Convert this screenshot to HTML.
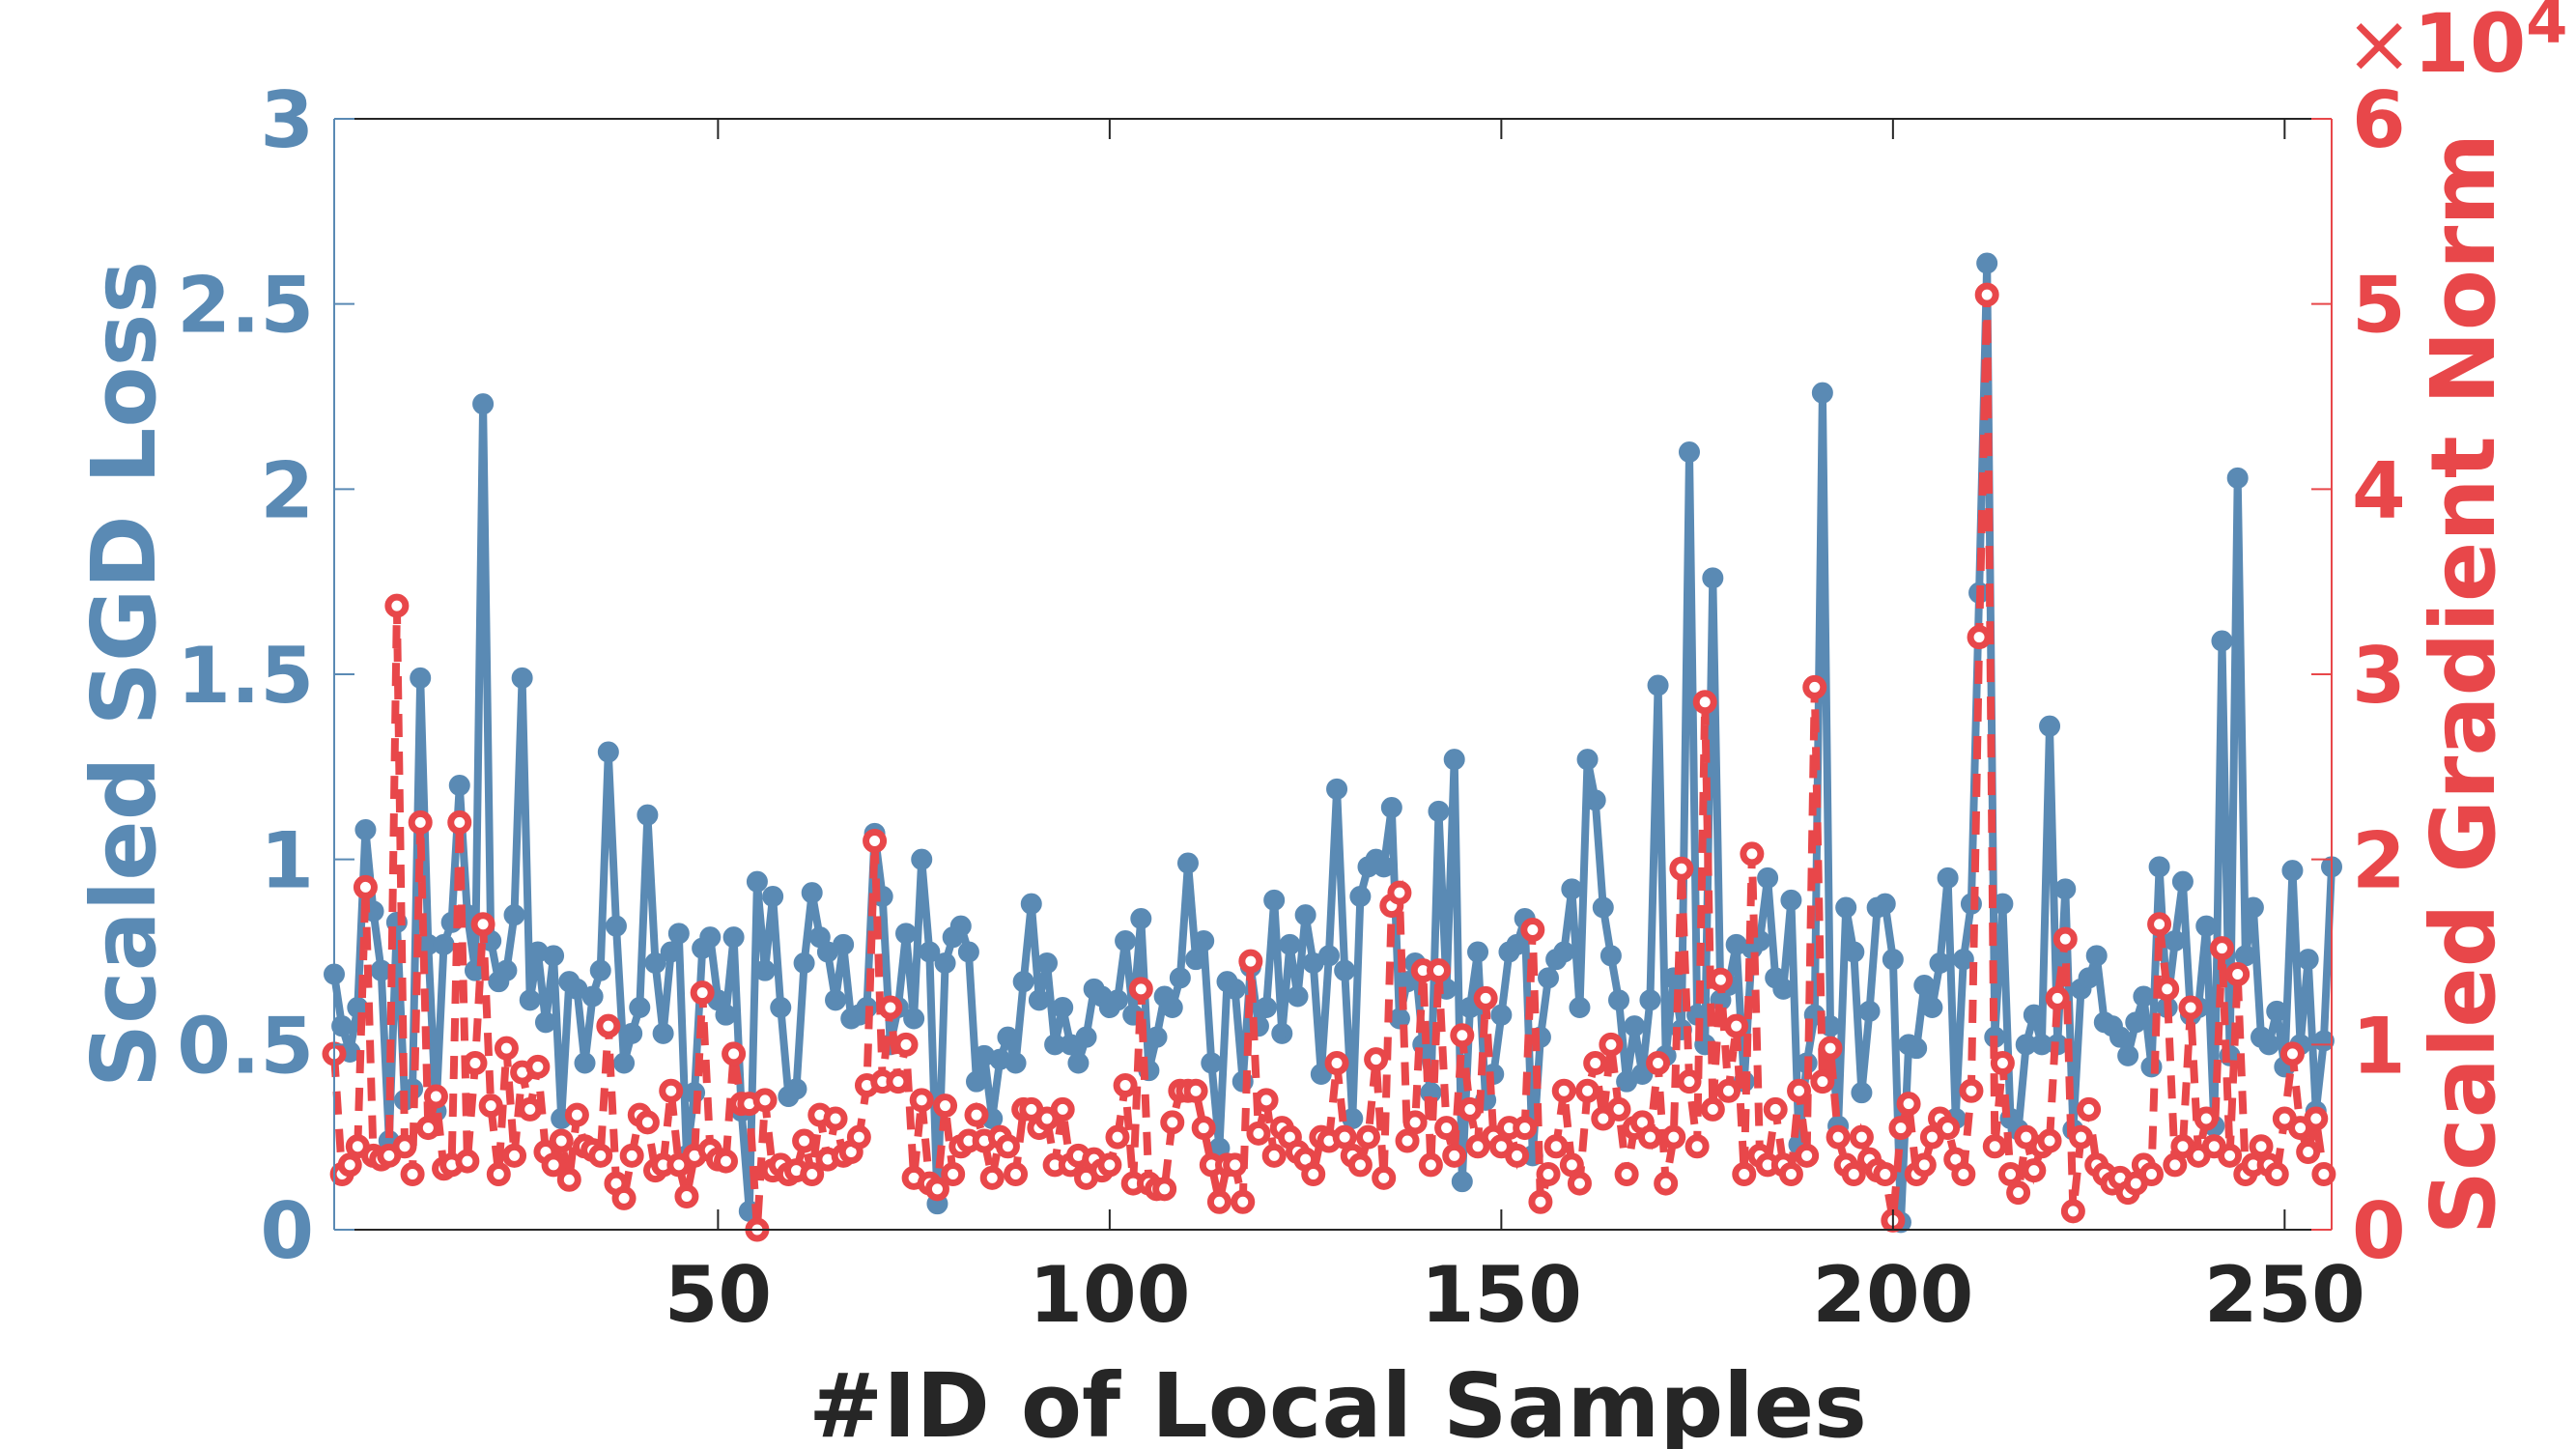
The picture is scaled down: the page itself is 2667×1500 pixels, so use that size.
<!DOCTYPE html>
<html><head><meta charset="utf-8"><style>
html,body{margin:0;padding:0;background:#fff;}
svg{display:block;font-family:"DejaVu Sans","Liberation Sans",sans-serif;font-weight:bold;}
</style></head><body>
<svg id="chart" width="2667" height="1500" viewBox="0 0 2667 1500" xmlns="http://www.w3.org/2000/svg" style="position:absolute;left:0;top:0">
<rect x="0" y="0" width="2667" height="1500" fill="#fff"/>
<g id="plot"></g>
<g id="axes"></g>
<text x="1385" y="1487" text-anchor="middle" font-size="92" fill="#262626">#ID of Local Samples</text>
<text transform="translate(160,698) rotate(-90)" text-anchor="middle" font-size="92" fill="#5A8AB4">Scaled SGD Loss</text>
<text transform="translate(2582,708) rotate(-90)" text-anchor="middle" font-size="92" fill="#E8474A">Scaled Gradient Norm</text>
<text x="2428" y="74" font-size="84" fill="#E8474A"><tspan font-weight="normal">×</tspan>10<tspan font-size="62" dy="-30">4</tspan></text>
</svg>
<script>
const lossValues=[0.69,0.55,0.48,0.6,1.08,0.86,0.7,0.24,0.83,0.35,0.38,1.49,0.77,0.32,0.77,0.83,1.2,0.85,0.7,2.23,0.78,0.67,0.7,0.85,1.49,0.62,0.75,0.56,0.74,0.3,0.67,0.65,0.45,0.63,0.7,1.29,0.82,0.45,0.53,0.6,1.12,0.72,0.53,0.75,0.8,0.2,0.37,0.76,0.79,0.62,0.58,0.79,0.32,0.05,0.94,0.7,0.9,0.6,0.36,0.38,0.72,0.91,0.79,0.75,0.62,0.77,0.57,0.58,0.6,1.07,0.9,0.5,0.6,0.8,0.57,1.0,0.75,0.07,0.72,0.79,0.82,0.75,0.4,0.47,0.3,0.46,0.52,0.45,0.67,0.88,0.62,0.72,0.5,0.6,0.5,0.45,0.52,0.65,0.63,0.6,0.62,0.78,0.58,0.84,0.43,0.52,0.63,0.6,0.68,0.99,0.73,0.78,0.45,0.22,0.67,0.65,0.4,0.71,0.55,0.6,0.89,0.53,0.77,0.63,0.85,0.72,0.42,0.74,1.19,0.7,0.3,0.9,0.98,1.0,0.98,1.14,0.57,0.67,0.72,0.5,0.37,1.13,0.65,1.27,0.13,0.6,0.75,0.35,0.42,0.58,0.75,0.77,0.84,0.2,0.52,0.68,0.73,0.75,0.92,0.6,1.27,1.16,0.87,0.74,0.62,0.4,0.55,0.42,0.62,1.47,0.47,0.68,0.54,2.1,0.58,0.5,1.76,0.62,0.66,0.77,0.4,0.76,0.78,0.95,0.68,0.65,0.89,0.23,0.45,0.58,2.26,0.55,0.28,0.87,0.75,0.37,0.59,0.87,0.88,0.73,0.02,0.5,0.49,0.66,0.6,0.72,0.95,0.3,0.73,0.88,1.72,2.61,0.52,0.88,0.3,0.27,0.5,0.58,0.5,1.36,0.5,0.92,0.27,0.65,0.68,0.74,0.56,0.55,0.52,0.47,0.56,0.63,0.44,0.98,0.6,0.78,0.94,0.58,0.6,0.82,0.28,1.59,0.47,2.03,0.74,0.87,0.52,0.5,0.59,0.44,0.97,0.5,0.73,0.32,0.51,0.98];
const gradValues=[0.95,0.3,0.35,0.45,1.85,0.4,0.38,0.4,3.37,0.45,0.3,2.2,0.55,0.72,0.33,0.35,2.2,0.37,0.9,1.65,0.67,0.3,0.98,0.4,0.85,0.65,0.88,0.42,0.35,0.48,0.27,0.62,0.45,0.43,0.4,1.1,0.25,0.17,0.4,0.62,0.58,0.32,0.35,0.75,0.35,0.18,0.4,1.28,0.43,0.38,0.37,0.95,0.68,0.68,0,0.7,0.32,0.35,0.3,0.32,0.48,0.3,0.62,0.38,0.6,0.4,0.42,0.5,0.78,2.1,0.8,1.2,0.8,1.0,0.28,0.7,0.25,0.22,0.67,0.3,0.45,0.48,0.62,0.48,0.28,0.5,0.45,0.3,0.65,0.65,0.55,0.6,0.35,0.65,0.35,0.4,0.28,0.38,0.32,0.35,0.5,0.78,0.25,1.3,0.25,0.22,0.22,0.58,0.75,0.75,0.75,0.55,0.35,0.15,0.35,0.35,0.15,1.45,0.52,0.7,0.4,0.55,0.5,0.42,0.38,0.3,0.5,0.48,0.9,0.5,0.4,0.35,0.5,0.92,0.28,1.75,1.82,0.48,0.58,1.4,0.35,1.4,0.55,0.4,1.05,0.65,0.45,1.25,0.5,0.45,0.55,0.4,0.55,1.62,0.15,0.3,0.45,0.75,0.35,0.25,0.75,0.9,0.6,1.0,0.65,0.3,0.55,0.58,0.5,0.9,0.25,0.5,1.95,0.8,0.45,2.85,0.65,1.35,0.75,1.1,0.3,2.03,0.4,0.35,0.65,0.35,0.3,0.75,0.4,2.93,0.8,0.98,0.5,0.35,0.3,0.5,0.38,0.32,0.3,0.05,0.55,0.68,0.3,0.35,0.5,0.6,0.55,0.38,0.3,0.75,3.2,5.05,0.45,0.9,0.3,0.2,0.5,0.32,0.45,0.48,1.25,1.57,0.1,0.5,0.65,0.35,0.3,0.25,0.28,0.2,0.25,0.35,0.3,1.65,1.3,0.35,0.45,1.2,0.4,0.6,0.45,1.52,0.4,1.38,0.3,0.35,0.45,0.35,0.3,0.6,0.95,0.55,0.42,0.6,0.3];
const xTicks=[50,100,150,200,250];
const yLeftTicks=[0,0.5,1,1.5,2,2.5,3];
const yLeftLabels=["0","0.5","1","1.5","2","2.5","3"];
const yRightTicks=[0,1,2,3,4,5,6];

const L=346,R=2414,T=123,B=1273;
const BLUE="#5A8AB4",RED="#E8474A",DARK="#262626";
const NS="http://www.w3.org/2000/svg";
const xScale=v=>L+(v-1)/(256-1)*(R-L);
const yL=v=>B-v/3*(B-T);
const yR=v=>B-v/6*(B-T);
function mk(tag,attrs,parent){const e=document.createElementNS(NS,tag);for(const k in attrs)e.setAttribute(k,attrs[k]);parent.appendChild(e);return e;}
const plot=document.getElementById('plot'),axes=document.getElementById('axes');

let pts=lossValues.map((v,i)=>xScale(i+1).toFixed(1)+","+yL(v).toFixed(1)).join(" ");
let bl=mk('polyline',{points:pts,fill:'none',stroke:BLUE,'stroke-width':8,'stroke-linejoin':'round'},plot);


lossValues.forEach((v,i)=>{
  const c=mk('circle',{cx:xScale(i+1),cy:yL(v),r:8,fill:BLUE,stroke:BLUE,'stroke-width':6},plot);
  
  
});
pts=gradValues.map((v,i)=>xScale(i+1).toFixed(1)+","+yR(v).toFixed(1)).join(" ");
let rl=mk('polyline',{points:pts,fill:'none',stroke:RED,'stroke-width':8,'stroke-dasharray':'24 15'},plot);


gradValues.forEach((v,i)=>{
  const c=mk('circle',{cx:xScale(i+1),cy:yR(v),r:9,fill:'#fff',stroke:RED,'stroke-width':7},plot);
  
  
});

let f=mk('line',{x1:L,y1:T,x2:R,y2:T,stroke:DARK,'stroke-width':2},axes);

f=mk('line',{x1:L,y1:B,x2:R,y2:B,stroke:DARK,'stroke-width':2},axes);

f=mk('line',{x1:L,y1:T,x2:L,y2:B,stroke:BLUE,'stroke-width':2},axes);

f=mk('line',{x1:R,y1:T,x2:R,y2:B,stroke:RED,'stroke-width':2},axes);


xTicks.forEach(t=>{
  const x=xScale(t);
  mk('line',{x1:x,y1:B,x2:x,y2:B-21,stroke:DARK,'stroke-width':2},axes);
  mk('line',{x1:x,y1:T,x2:x,y2:T+21,stroke:DARK,'stroke-width':2},axes);
  const tx=mk('text',{x:x,y:1368,'text-anchor':'middle','font-size':80,fill:DARK},axes);
  tx.textContent=t;
  
  
});
yLeftTicks.forEach((t,i)=>{
  const y=yL(t);
  mk('line',{x1:L,y1:y,x2:L+21,y2:y,stroke:BLUE,'stroke-width':2},axes);
  const tx=mk('text',{x:325,y:y+29,'text-anchor':'end','font-size':80,fill:BLUE},axes);
  tx.textContent=yLeftLabels[i];
  
  
});
yRightTicks.forEach(t=>{
  const y=yR(t);
  mk('line',{x1:R,y1:y,x2:R-21,y2:y,stroke:RED,'stroke-width':2},axes);
  const tx=mk('text',{x:2435,y:y+29,'text-anchor':'start','font-size':80,fill:RED},axes);
  tx.textContent=t;
  
  
});
</script>
</body></html>
